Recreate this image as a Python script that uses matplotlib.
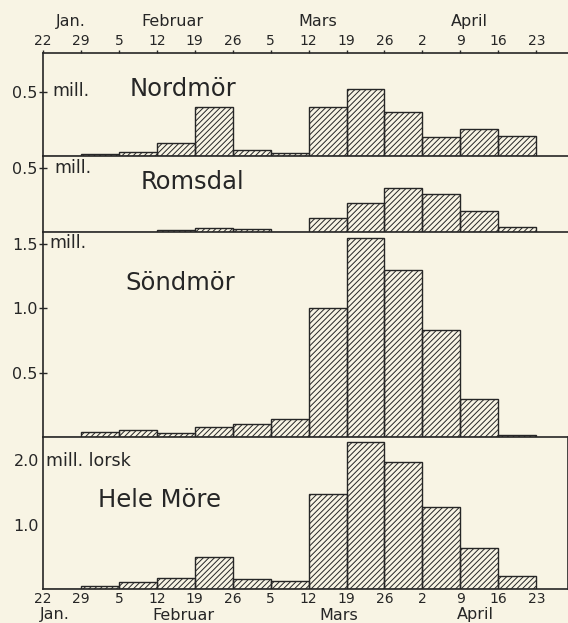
import matplotlib.pyplot as plt
import numpy as np

plt.rcParams['font.family'] = ['DejaVu Sans']
plt.rcParams['hatch.linewidth'] = 0.7
plt.rcParams['hatch.color'] = '#2a2a2a'

BG = '#f8f4e4'
INK = '#262626'

# weekly catch, million fish, week starting on each date
weeks = ['22', '29', '5', '12', '19', '26', '5', '12', '19', '26', '2', '9', '16', '23']
months = ['Jan.', 'Februar', 'Mars', 'April']

nordmor = [0.0, 0.013, 0.031, 0.104, 0.38, 0.049, 0.026, 0.378, 0.52, 0.345, 0.148, 0.213, 0.158]
romsdal = [0.0, 0.0, 0.0, 0.021, 0.034, 0.026, 0.005, 0.109, 0.231, 0.343, 0.299, 0.164, 0.039]
sondmor = [0.0, 0.041, 0.052, 0.034, 0.08, 0.098, 0.142, 1.0, 1.544, 1.298, 0.829, 0.293, 0.013]
hele_more = [0.0, 0.052, 0.114, 0.166, 0.50, 0.155, 0.124, 1.47, 2.28, 1.975, 1.27, 0.64, 0.20]

nordmor_ticks = [0.5]
romsdal_ticks = [0.5]
sondmor_ticks = [0.5, 1.0, 1.5]
hele_ticks = [1.0, 2.0]

# ---- layout (pixels of the 568x623 picture) ----
W, H = 568.0, 623.0
X0 = 43.0          # pixel of 22 Jan
WEEK = 37.9        # pixels per week


def rect(top, bottom):
    return [X0 / W, 1 - bottom / H, (W - X0) / W, (bottom - top) / H]


def fx(px):
    return px / W


def fy(py):
    return 1 - py / H


fig = plt.figure(figsize=(5.68, 6.23), dpi=100)
fig.patch.set_facecolor(BG)

# (data, ticks, top px, bottom px, ymax, title, title pos, mill text, mill pos)
panels = [
    (nordmor, nordmor_ticks, 53.3, 156.0, 0.797, 'Nordmör', (130, 89), 'mill.', (52, 91)),
    (romsdal, romsdal_ticks, 156.0, 232.3, 0.592, 'Romsdal', (141, 182), 'mill.', (54, 168)),
    (sondmor, sondmor_ticks, 232.3, 437.0, 1.588, 'Söndmör', (125, 283), 'mill.', (49, 243)),
    (hele_more, hele_ticks, 437.0, 589.0, 2.36, 'Hele Möre', (98, 500), 'mill. lorsk', (46, 461)),
]

x = np.arange(len(weeks) - 1)
xmax = (W - 0.6 - X0) / WEEK

axes = []
for i, (vals, ticks, top, bot, ymax, title, tpos, mill, mpos) in enumerate(panels):
    ax = fig.add_axes(rect(top, bot))
    ax.set_facecolor('none')
    ax.bar(x, vals, width=1.0, align='edge', fill=False, hatch='//////',
           edgecolor=INK, linewidth=1.0)
    ax.set_xlim(0, xmax)
    ax.set_ylim(0, ymax)

    for s in ax.spines.values():
        s.set_color(INK)
        s.set_linewidth(1.2)
    ax.spines['right'].set_visible(i == 3)
    ax.spines['top'].set_visible(i == 0)

    ax.set_yticks(ticks)
    ax.set_yticklabels([f'{t:.1f}' for t in ticks], fontsize=11.5)
    if i < 3:
        ax.tick_params(axis='y', direction='inout', length=6, width=1.0,
                       color=INK, pad=1, labelcolor=INK)
    else:
        ax.tick_params(axis='y', length=0, pad=3, labelcolor=INK)

    ax.set_xticks(np.arange(len(weeks)))
    if i == 0:
        ax.xaxis.tick_top()
        ax.set_xticklabels(weeks, fontsize=10)
        ax.tick_params(axis='x', direction='out', length=2.5, width=1.0,
                       color=INK, pad=1.5, labelcolor=INK)
    elif i == 3:
        ax.set_xticklabels(weeks, fontsize=10)
        ax.tick_params(axis='x', length=0, pad=2, labelcolor=INK)
    else:
        ax.tick_params(axis='x', length=0, labelbottom=False)

    fig.text(fx(tpos[0]), fy(tpos[1]), title, fontsize=17.5, color=INK,
             ha='left', va='center')
    fig.text(fx(mpos[0]), fy(mpos[1]), mill, fontsize=12.5, color=INK,
             ha='left', va='center')
    axes.append(ax)

# month names above and below
top_month_x = [0.73, 3.4, 7.25, 11.24]
bot_month_x = [0.32, 3.7, 7.8, 11.4]
for m, xm in zip(months, top_month_x):
    axes[0].annotate(m, (xm, fy(21.7)), xycoords=('data', 'figure fraction'),
                     ha='center', va='center', fontsize=11.5, color=INK)
for m, xm in zip(months, bot_month_x):
    axes[3].annotate(m, (xm, fy(615)), xycoords=('data', 'figure fraction'),
                     ha='center', va='center', fontsize=11.5, color=INK)

plt.savefig('out.png', dpi=100, facecolor=BG)
